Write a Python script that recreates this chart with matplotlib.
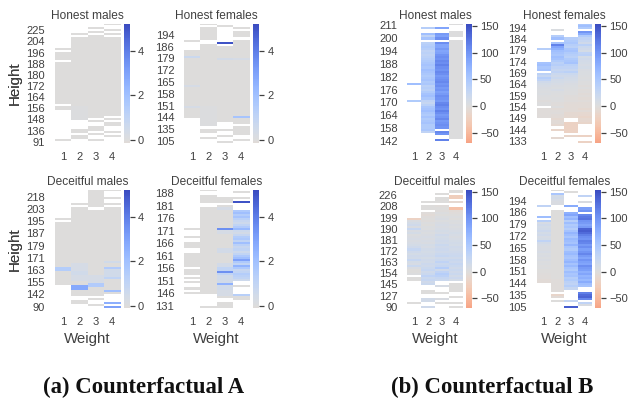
import numpy as np
import matplotlib
matplotlib.use('Agg')
import matplotlib.pyplot as plt
from matplotlib.colors import ListedColormap, Normalize

plt.rcParams['font.family'] = ['Liberation Sans', 'DejaVu Sans']

W, H = 628, 400
N = 58  # rows in every heatmap
_ = np.nan

weight_labels = ['1', '2', '3', '4']

# Counterfactual A, every list is one weight column, top row first
a_hm_1 = [_]*12 + [0] + [_] + [0]*4 + [_] + [0]*20 + [_] + [0]*2 + [_]*14 + [0] + [_]
a_hm_2 = [_]*5 + [0] + [_] + [0]*33 + [0.1]*7 + [_]*4 + [0]*2 + [_] + [0]*2 + [_]*2 + [0]
a_hm_3 = [_]*2 + [0] + [_] + [0] + [_] + [0]*40 + [_] + [0] + [_]*2 + [0]*2 + [_] + [0] + [_]*2 + [0] + [_]
a_hm_4 = [0] + [_]*2 + [0] + [_] + [0] + [_] + [0] + [0]*37 + [_] + [0] + [_] + [0]*2 + [_]*2 + [0] + [_] + [0] + [_]*3
a_hm_ylabels = ['225', '204', '196', '188', '180', '172', '164', '156', '148', '136', '91']

a_hf_1 = [_]*8 + [0] + [_]*4 + [0]*2 + [0] + [0.7] + [0]*13 + [0.3] + [0]*9 + [0.3] + [0]*5 + [_]*12
a_hf_2 = [0] + [_] + [0]*6 + [_]*2 + [0]*30 + [0.1]*10 + [_] + [0]*2 + [_]*2 + [0] + [_]*2
a_hf_3 = [_] + [0] + [_]*7 + [5.0] + [_] + [0]*2 + [0]*4 + [0.4] + [0]*30 + [_]*3 + [0] + [_]*2 + [0] + [_]*2 + [0]
a_hf_4 = [_]*2 + [0] + [_] + [0]*3 + [_] + [0]*9 + [0.3] + [0]*27 + [1.8] + [0]*3 + [_] + [0]*4 + [_]*2 + [0] + [_]
a_hf_ylabels = ['194', '186', '179', '172', '165', '158', '151', '144', '135', '105']

a_dm_1 = [_]*14 + [0] + [_] + [0]*22 + [1.4]*2 + [0]*4 + [0]*2 + [0] + [_]*11
a_dm_2 = [_]*7 + [0] + [_] + [0]*27 + [0.3]*4 + [0.5]*2 + [0.3]*3 + [0]*2 + [2.8]*2 + [0]*3 + [_]*2 + [0]*2 + [_]*3
a_dm_3 = [0]*9 + [_] + [0]*32 + [0.3]*4 + [1.5]*2 + [0]*4 + [_] + [0] + [_]*2 + [0] + [_]
a_dm_4 = [0] + [_]*3 + [0] + [_]*2 + [0] + [_] + [0]*26 + [0.5] + [0]*2 + [1.5] + [0.5]*4 + [1.0] + [0]*5 + [2.0] + [0] + [_]*4 + [2.6] + [_] + [3.0]
a_dm_ylabels = ['218', '203', '195', '187', '179', '171', '163', '155', '142', '90']

a_df_1 = [_]*19 + [0] + [_]*3 + [0] + [_]*2 + [0]*3 + [_]*2 + [0]*7 + [_] + [0]*3 + [_] + [0] + [_] + [0] + [_]*2 + [0] + [_] + [0] + [_]*7
a_df_2 = [0] + [_]*2 + [0]*4 + [_]*2 + [0]*42 + [_]*6 + [0]
a_df_3 = [_]*4 + [0]*3 + [_] + [0] + [0.3] + [0]*9 + [3.5] + [0.3]*2 + [0]*7 + [0.4]*2 + [0]*5 + [0.4]*2 + [1.0]*2 + [3.5] + [1.0] + [0.5]*4 + [2.5] + [0.5]*2 + [0.3]*3 + [0] + [_]*2 + [0]*4 + [_]*3
a_df_4 = [_] + [0] + [_]*2 + [0] + [_] + [5.0] + [_]*3 + [1.6, 2.0, 1.4, 1.8, 1.2, 0.8, 0.6, 1.0, 1.5, 2.2, 0.6, 0.4, 0.8, 1.4, 1.6, 1.0, 2.0, 1.2, 0.8, 1.0, 0.6, 1.0, 1.6, 2.0, 3.0, 1.6, 1.0, 2.4, 1.6, 0.8, 1.0, 1.4, 1.2, 1.0, 0.6] + [_]*2 + [0] + [_]*3 + [1.3] + [0]*2 + [_]
a_df_ylabels = ['188', '181', '176', '171', '166', '161', '156', '151', '146', '131']

# Counterfactual B
b_hm_1 = [_]*29 + [60] + [_]*7 + [45] + [_]*20
b_hm_2 = [_]*2 + [40] + [_]*2 + [60, 30, 55] + [_] + [35, 40, 45, 40, 30, 35, 30, 35, 40, 45, 50, 55, 50, 60, 55, 50, 45, 50, 55, 45, 50, 35, 40, 35, 45, 55, 60, 50, 30, 25, 35, 50, 55, 60, 50, 45, 55, 45, 50, 55, 45, 45, 50] + [30] + [_]*4
b_hm_3 = [_]*2 + [85] + [_]*2 + [95, 90, 105] + [_] + [105, 85, 85, 95, 85, 90, 100, 105, 100, 110, 105, 115, 105, 100, 110, 105, 95, 100, 105, 110, 100, 105, 95, 100, 90, 95, 105, 100, 95, 110, 115, 105, 100, 115, 105, 95, 100, 110, 95, 100, 105, 100] + [_] + [110, 100] + [_]*2 + [115] + [_]
b_hm_4 = [0] + [_]*3 + [0]*3 + [_] + [0]*48 + [_]*2
b_hm_ylabels = ['211', '200', '194', '188', '182', '176', '170', '164', '158', '142']

b_hf_1 = [_]*12 + [40] + [_]*6 + [55, 60, 50, 55] + [_] + [35, 25, 40, 30] + [15, 10, 8, 6, 5, 3, 5, 2, 0, -2, 0, 0] + [_] + [-3]*5 + [_]*12
b_hf_2 = [_]*3 + [5] + [_]*2 + [40, 60] + [_] + [55, 115, 85, 75, 60, 55, 50, 60, 55, 45, 35, 40, 30, 25, 30, 20, 15, 20, 12, 10, 8, 6, 5, 8, 3, 2, 0, 2, 0, -2, -3, 0, -5, -3, -2, -4, -5, -8, -5, -6, -8] + [_] + [-15] + [_]*3 + [-8] + [_]
b_hf_3 = [_]*7 + [40, 45, 50, 40, 35, 50, 55, 45, 40, 35, 45, 50, 55, 35, 30, 25, 35, 20, 15, 12, 10, 8, 6, 5, 3, 2, 0, 0, -2, -3, -2, -4, -5, -5, -6, -5, -8, -8, -10] + [_]*2 + [-20]*5 + [_] + [-15] + [_]
b_hf_4 = [50, 60, 45] + [_] + [100] + [80, 45, 30, 25, 15, 35, 20, 15, 10, 30, 35, 10, 15, 12, 10, 8, 10, 6, 5, 5, 3, 2, 3, 0, 0, -2, 0, -3, -2, -4, -3, -5, -3, -5, -6, -5, -8, -6, -10, -12, -15, -10, -12, -15] + [_]*5 + [-20] + [_]*2 + [-20]
b_hf_ylabels = ['194', '184', '179', '174', '169', '164', '159', '154', '149', '144', '133']

b_dm_1 = [_]*14 + [-20] + [5, 10, 15, 5, 25, 5, 10, 3, 5, 8, 5, 8, 10, 15, 25, 15, 10, 15, 12, 25, 10, 8, 20, 5, 0, 0, 2] + [_] + [0]*2 + [_]*10 + [0] + [_]*2
b_dm_2 = [_]*6 + [0] + [_] + [0]*2 + [_] + [-3, -5, -2, 0, -2, 2, 0, 3, 2, 5, 3, 5, 8, 6, 8, 6, 10, 8, 12, 10, 12, 15, 10, 15, 12, 18, 15, 20, 25, 15, 20, 30, 20, 25, 15, 20] + [_]*2 + [0]*2 + [_]*2 + [12]*2 + [_]*2 + [15] + [_]
b_dm_3 = [_]*2 + [0] + [_] + [0]*3 + [_] + [-3, 0, -2, 2, 0, 3, 5, 2, 5, 8, 5, 8, 10, 8, 15, 10, 12, 15, 12, 20, 15, 18, 15, 20, 25, 15, 20, 30, 20, 25, 40, 15, 30, 40, 35, 25, 20] + [_]*2 + [8] + [_]*2 + [0] + [_]*2 + [5] + [_] + [0] + [_]
b_dm_4 = [0]*2 + [_] + [-25] + [-25] + [_] + [-10] + [_]*2 + [-40] + [-5, -3, 0, 2, 0, 3, 2, 5, 3, 5, 8, 10, 8, 5, 8, 10, 12, 10, 15, 12, 15, 18, 20, 15, 22, 18, 25, 20, 15, 20, 15, 20, 12, 18, 10] + [_] + [0]*4 + [_]*2 + [0] + [_]*2 + [0] + [_] + [0]
b_dm_ylabels = ['226', '208', '199', '190', '181', '172', '163', '154', '145', '127', '90']

b_df_1 = [_]*8 + [30] + [_]*4 + [60] + [_] + [40] + [8, 15, 10, 12, 18, 10, 15, 8, 10, 30, 12, 8, 6, 5, 8, 4, 6, 3, 5, 2, 3, 1, 2, 0, 0, -2, -3, -3, -5, -5] + [_]*12
b_df_2 = [0] + [_] + [50] + [10, 12, 8, 5, 5] + [_]*2 + [0]*34 + [-3]*6 + [_] + [-15, -5] + [_] + [0] + [_]*3
b_df_3 = [_] + [0] + [_]*6 + [80] + [_]*2 + [75, 85, 60, 70, 40, 60, 45, 50, 40, 55, 70, 60, 50, 65, 60, 55, 70, 50, 45, 60, 65, 55, 50, 60, 70, 55, 65, 50, 45, 60, 50, 55, 40, 45, 35, 30, 40, 25] + [_]*5 + [25] + [_]*2 + [140]
b_df_4 = [_]*3 + [30] + [_]*2 + [5] + [_]*2 + [90, 100] + [_] + [110, 120, 125, 100, 95, 85, 95, 135, 140, 130, 115, 105, 100, 115, 110, 95, 105, 90, 100, 110, 95, 85, 100, 90, 85, 105, 95, 90, 75, 85, 70, 75, 65, 80, 60, 55] + [_]*2 + [115, 130, 135, 110] + [_] + [30, 5] + [_]
b_df_ylabels = ['194', '186', '179', '172', '165', '158', '151', '144', '135', '105']

TEXT = '#404040'


def fit(c):
    # rows are read by eye, keep them all at the same length
    c = list(c)[:N]
    return c + [_] * (N - len(c))


def px_axes(fig, x0, y0, x1, y1):
    return fig.add_axes([x0 / W, 1 - y1 / H, (x1 - x0) / W, (y1 - y0) / H])


def panel(fig, cols, title, ylabels, x0, x1, y0, y1, cx0, cx1, vmin, vmax, cticks,
          first, last, xlabel=False, ylabel=False):
    ax = px_axes(fig, x0, y0, x1, y1)
    cax = px_axes(fig, cx0, y0, cx1, y1)

    # reversed coolwarm centred on 0, cut to the data range
    vr = max(abs(vmin), abs(vmax))
    cut = np.linspace(0.5 + vmin / (2 * vr), 0.5 + vmax / (2 * vr), 256)
    cmap = ListedColormap(plt.cm.coolwarm_r(cut))
    cmap.set_bad('white')

    data = np.array([fit(c) for c in cols], dtype=float).T
    im = ax.imshow(data, cmap=cmap, norm=Normalize(vmin, vmax), aspect='auto',
                   interpolation='nearest', extent=[0, 4, N, 0])
    for s in ax.spines.values():
        s.set_visible(False)

    ax.set_xticks(np.arange(4) + 0.5)
    ax.set_xticklabels(weight_labels)
    rh = (y1 - y0) / N
    ax.set_yticks(np.linspace((first - y0) / rh, (last - y0) / rh, len(ylabels)))
    ax.set_yticklabels(ylabels)
    ax.tick_params(axis='x', length=0, pad=6, labelsize=8, labelcolor=TEXT)
    ax.tick_params(axis='y', length=0, pad=7, labelsize=8, labelcolor=TEXT)
    ax.set_title(title, fontsize=8.6, color=TEXT, pad=3.5)

    if xlabel:
        ax.set_xlabel('Weight', fontsize=10.8, color=TEXT)
        ax.xaxis.set_label_coords(0.5, -0.2)
    if ylabel:
        ax.set_ylabel('Height', fontsize=10.8, color=TEXT)
        ax.yaxis.set_label_coords(-(x0 - 15 - 7) / (x1 - x0), 0.5)

    cb = fig.colorbar(im, cax=cax)
    cb.outline.set_visible(False)
    cb.set_ticks(cticks)
    cb.ax.set_yticklabels([str(t).replace('-', '\u2212') for t in cticks])
    cb.ax.tick_params(length=3.5, width=0.9, color='#404040', labelsize=8,
                      labelcolor=TEXT, pad=2.5)


fig = plt.figure(figsize=(W / 100, H / 100), dpi=100)

a_ticks = [0, 2, 4]
b_ticks = [-50, 0, 50, 100, 150]
top = (24, 143.3)
bot = (190, 308.3)

panel(fig, [a_hm_1, a_hm_2, a_hm_3, a_hm_4], 'Honest males', a_hm_ylabels,
      54.7, 120, *top, 124, 129.5, -0.15, 5.2, a_ticks, 30.3, 141.7, ylabel=True)
panel(fig, [a_hf_1, a_hf_2, a_hf_3, a_hf_4], 'Honest females', a_hf_ylabels,
      184, 249.3, *top, 253.3, 259, -0.15, 5.2, a_ticks, 34.7, 141)
panel(fig, [a_dm_1, a_dm_2, a_dm_3, a_dm_4], 'Deceitful males', a_dm_ylabels,
      54.7, 120, *bot, 124, 129.5, -0.12, 5.2, a_ticks, 196.7, 306.7, xlabel=True, ylabel=True)
panel(fig, [a_df_1, a_df_2, a_df_3, a_df_4], 'Deceitful females', a_df_ylabels,
      184, 249.3, *bot, 253.3, 259, -0.12, 5.2, a_ticks, 193.3, 306, xlabel=True)

panel(fig, [b_hm_1, b_hm_2, b_hm_3, b_hm_4], 'Honest males', b_hm_ylabels,
      407.3, 462.7, *top, 466, 471.7, -70, 154, b_ticks, 25.3, 141, ylabel=True)
panel(fig, [b_hf_1, b_hf_2, b_hf_3, b_hf_4], 'Honest females', b_hf_ylabels,
      536.7, 591.7, *top, 595, 601, -70, 154, b_ticks, 27.7, 141)
panel(fig, [b_dm_1, b_dm_2, b_dm_3, b_dm_4], 'Deceitful males', b_dm_ylabels,
      407.3, 462.7, *bot, 466, 471.7, -69, 153, b_ticks, 195.3, 306.7, xlabel=True, ylabel=True)
panel(fig, [b_df_1, b_df_2, b_df_3, b_df_4], 'Deceitful females', b_df_ylabels,
      536.7, 591.7, *bot, 595, 601, -69, 153, b_ticks, 200.7, 306.7, xlabel=True)

fig.text(144 / W, 1 - 387 / H, '(a) Counterfactual A', family='Liberation Serif',
         weight='bold', fontsize=16.4, color='#111111', ha='center', va='center')
fig.text(492 / W, 1 - 387 / H, '(b) Counterfactual B', family='Liberation Serif',
         weight='bold', fontsize=16.4, color='#111111', ha='center', va='center')

fig.savefig('out.png', dpi=100)
